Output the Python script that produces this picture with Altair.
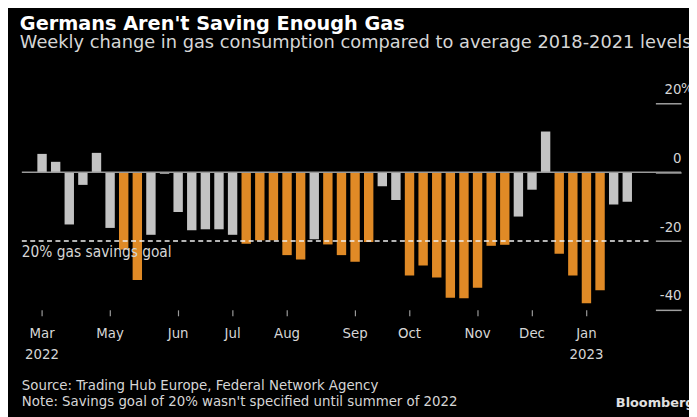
import altair as alt
import pandas as pd

# ---------------- data ----------------
weeks = [d.strftime("%Y-%m-%d") for d in pd.date_range("2022-03-28", periods=44, freq="7D")]

change = [5.3, 3.0, -15.2, -3.7, 5.6, -16.2, -22.5, -31.3, -18.2, -0.5,
          -11.6, -16.9, -16.6, -16.6, -18.2, -20.8, -19.8, -19.8, -24.1, -25.4,
          -19.5, -21.0, -24.1, -26.0, -20.3, -4.1, -8.1, -30.0, -27.1, -30.6,
          -36.5, -36.6, -33.6, -21.4, -21.1, -12.9, -5.1, 11.8, -23.7, -30.0,
          -38.1, -34.3, -9.4, -8.6]

meets_goal = [0, 0, 0, 0, 0, 0, 1, 1, 0, 0,
              0, 0, 0, 0, 0, 1, 1, 1, 1, 1,
              0, 1, 1, 1, 1, 0, 0, 1, 1, 1,
              1, 1, 1, 1, 1, 0, 0, 0, 1, 1,
              1, 1, 0, 0]

tick_weeks = ["2022-03-28", "2022-05-02", "2022-06-06", "2022-07-04", "2022-08-01",
              "2022-09-05", "2022-10-03", "2022-11-07", "2022-12-05", "2023-01-02"]
tick_labels = [["Mar", "2022"], "May", "Jun", "Jul", "Aug", "Sep", "Oct", "Nov", "Dec", ["Jan", "2023"]]

y_ticks = [-40, -20, 0, 20]
goal = [-20]

title = "Germans Aren't Saving Enough Gas"
subtitle = "Weekly change in gas consumption compared to average 2018-2021 levels"
source = "Source: Trading Hub Europe, Federal Network Agency"
note = "Note: Savings goal of 20% wasn't specified until summer of 2022"
goal_label = "20% gas savings goal"

# ---------------- style ----------------
FONT = "DejaVu Sans"
FONT_C = "DejaVu Sans Condensed"
ORANGE = "#E08A26"
GREY = "#C3C3C3"
TXT = "#d6d6d6"
W, H = 641, 209

df = pd.DataFrame({"week": weeks, "change": change,
                   "status": ["goal" if m else "other" for m in meets_goal]})


def js(v):
    if isinstance(v, list):
        return "[" + ",".join("'" + s + "'" for s in v) + "]"
    return "'" + v + "'"


label_expr = ""
for wk, lab in zip(tick_weeks, tick_labels):
    label_expr += f"datum.value == '{wk}' ? {js(lab)} : "
label_expr += "''"

x_scale = alt.Scale(range=[15.7, 617.3], paddingInner=0.31, paddingOuter=0)
y_scale = alt.Scale(domain=[-40, 20], nice=False, zero=False)

bars = alt.Chart(df).mark_bar().encode(
    x=alt.X("week:O", sort=None, scale=x_scale, title=None,
            axis=alt.Axis(values=tick_weeks, labelExpr=label_expr, labelAngle=0,
                          labelAlign="center", labelBaseline="alphabetic",
                          labelPadding=22, labelLineHeight=21,
                          labelFont=FONT_C, labelFontSize=15, labelColor=TXT,
                          tickSize=6, tickColor="#9a9a9a", tickWidth=1.2,
                          domain=False, grid=False)),
    y=alt.Y("change:Q", scale=y_scale, title=None,
            axis=alt.Axis(orient="right", values=y_ticks, labelExpr="'' + datum.value",
                          tickSize=26, tickColor="#a0a0a0", tickWidth=1.5,
                          labelPadding=0, labelAlign="right", labelBaseline="alphabetic",
                          labelOffset=-10, labelFont=FONT_C, labelFontSize=15,
                          labelColor=TXT, domain=False, grid=False, labelFlush=False)),
    color=alt.Color("status:N", scale=alt.Scale(domain=["goal", "other"], range=[ORANGE, GREY]),
                    legend=None),
)

zero_df = pd.DataFrame({"y": [0]})
zero_line = alt.Chart(zero_df).mark_rule(color="#9a9a9a", strokeWidth=1.5).encode(
    y=alt.Y("y:Q", scale=y_scale), x=alt.value(0), x2=alt.value(667))

goal_df = pd.DataFrame({"y": goal, "t": [goal_label]})
goal_line = alt.Chart(goal_df).mark_rule(color="#f0f0f0", strokeWidth=1.6, strokeDash=[5, 3.5]).encode(
    y=alt.Y("y:Q", scale=y_scale), x=alt.value(0), x2=alt.value(634))
goal_text = alt.Chart(goal_df).mark_text(align="left", baseline="alphabetic", dy=16.5,
                                         font=FONT_C, fontSize=15.5, color=TXT).encode(
    y=alt.Y("y:Q", scale=y_scale), x=alt.value(0), text="t:N")

pct_df = pd.DataFrame({"y": [20], "t": ["%"]})
pct_text = alt.Chart(pct_df).mark_text(align="left", baseline="alphabetic", dy=-10,
                                       font=FONT_C, fontSize=15, color=TXT).encode(
    y=alt.Y("y:Q", scale=y_scale), x=alt.value(667), text="t:N")


def label(txt, x, y, size, weight="normal", color=TXT, font=FONT):
    return alt.Chart(pd.DataFrame({"t": [txt]})).mark_text(
        align="left", baseline="alphabetic", font=font, fontSize=size,
        fontWeight=weight, color=color).encode(x=alt.value(x), y=alt.value(y), text="t:N")


texts = [
    label(title, -2, -74, 19.5, "bold", "#ffffff"),
    label(subtitle, -2, -56, 18),
    label(source, 0, 290, 15, font=FONT_C),
    label(note, 0, 306, 15, font=FONT_C),
    label("Bloomberg", 601, 307.5, 13, "bold", "#e0e0e0"),
]

chart = alt.layer(bars, zero_line, goal_line, goal_text, pct_text, *texts).properties(
    width=W, height=H,
    background="#000000",
    autosize=alt.AutoSizeParams(type="none"),
    padding={"left": 14, "top": 94, "right": 34, "bottom": 106},
).configure_view(stroke=None)

chart.save("out.html", embed_options={"renderer": "svg", "actions": False})
